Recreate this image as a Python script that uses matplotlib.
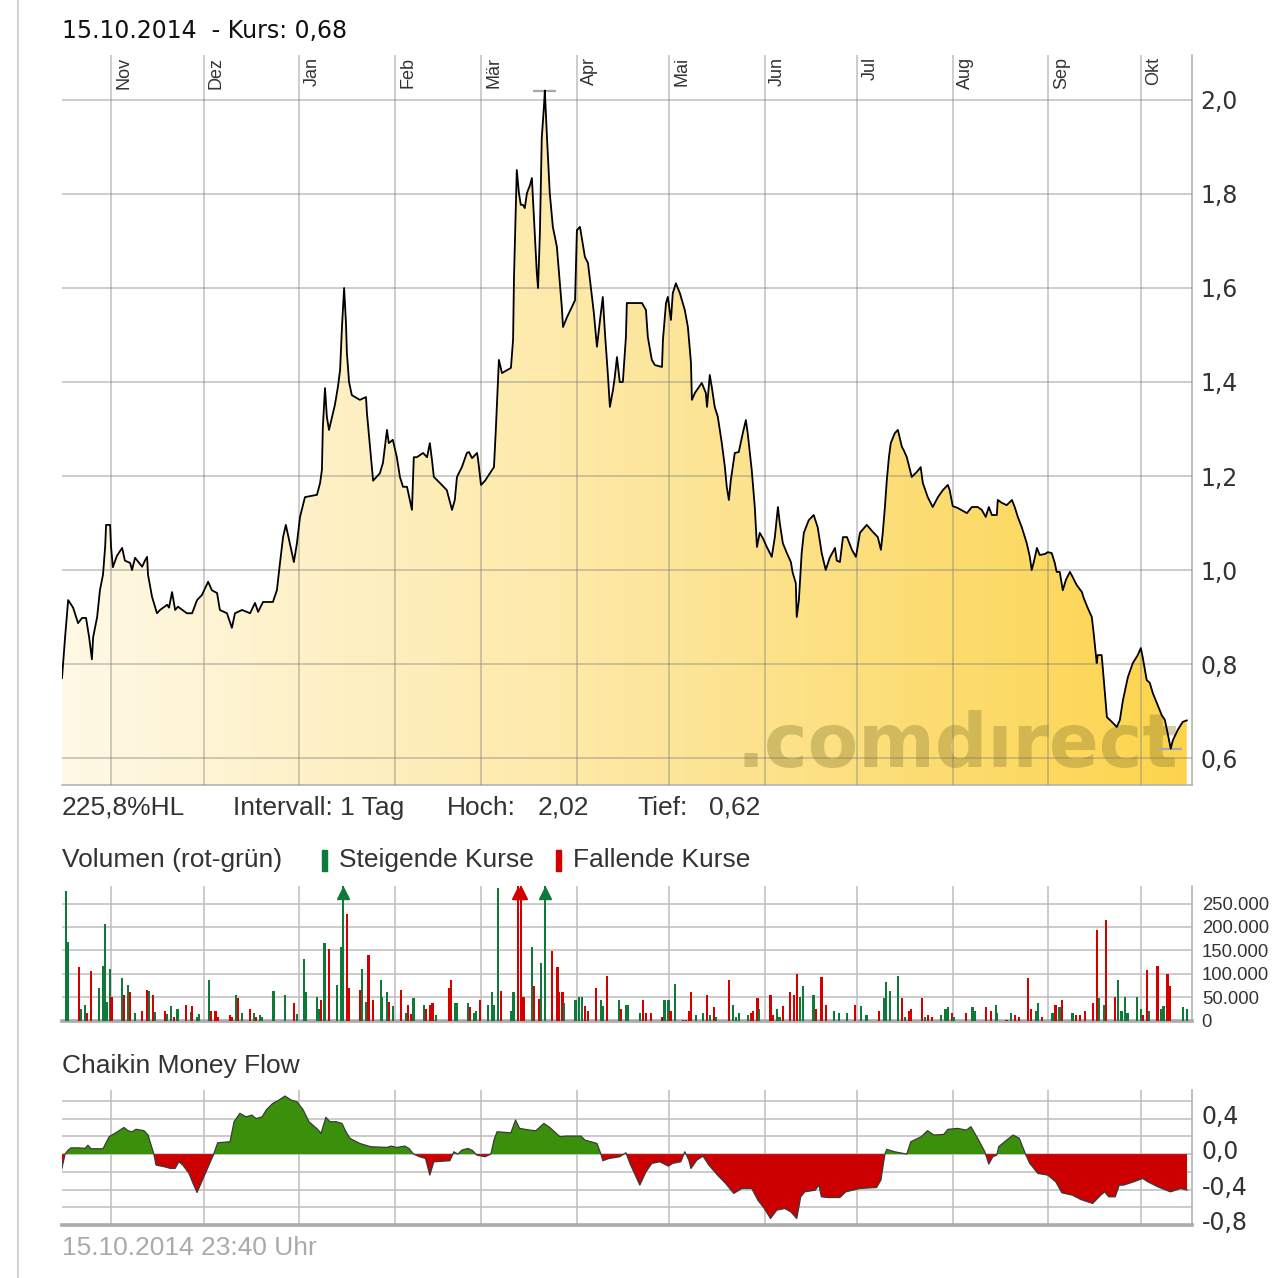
import matplotlib
matplotlib.use('Agg')
import matplotlib.pyplot as plt
import matplotlib.dates as mdates
from matplotlib.colors import LinearSegmentedColormap
from matplotlib.patches import Polygon, Rectangle
from matplotlib.lines import Line2D
from matplotlib.transforms import ScaledTranslation
import numpy as np
import pandas as pd

# ===== DATA (days counted from 1 Nov 2013) =====
price_day = [
    -15.9, -14.9, -13.9, -12.3, -10.7, -9.4, -8.1, -7.1, -6.2, -5.8, -4.5, -3.6, -2.6, -1.9, -1.6, -0.3,
    0.0, 0.6, 1.9, 3.6, 4.5, 6.2, 6.8, 7.8, 10.1, 11.0, 11.7, 12.0, 13.3, 14.9, 15.9, 18.2, 18.8, 19.8,
    20.8, 21.7, 24.6, 26.3, 27.9, 29.5, 31.5, 32.7, 34.4, 35.3, 37.6, 39.2, 40.2, 42.5, 45.1, 46.7, 47.7,
    49.3, 52.5, 53.8, 54.8, 55.8, 56.7, 58.0, 59.3, 60.3, 61.3, 62.9, 66.8, 67.8, 68.4, 68.7, 69.4, 70.0,
    70.7, 71.7, 72.6, 73.6, 74.3, 74.9, 75.6, 76.2, 76.5, 77.2, 78.1, 80.7, 82.7, 83.0, 84.0, 84.6, 85.0,
    87.2, 88.2, 89.5, 90.1, 91.4, 92.7, 93.7, 94.7, 96.0, 96.9, 97.6, 98.2, 99.2, 101.2, 102.5, 103.4,
    104.1, 104.7, 106.7, 108.9, 110.6, 111.5, 112.2, 113.8, 115.4, 116.1, 117.1, 118.7, 119.0, 120.0,
    121.3, 122.9, 124.2, 124.8, 125.5, 125.8, 126.8, 129.7, 130.4, 130.7, 131.3, 131.6, 132.3, 132.9,
    133.6, 134.2, 134.9, 135.9, 136.5, 136.8, 137.5, 138.1, 138.5, 139.1, 139.7, 140.4, 140.7, 141.4,
    142.3, 143.3, 144.6, 145.3, 146.2, 146.6, 147.9, 149.5, 150.5, 151.1, 152.1, 153.7, 154.7, 156.0,
    156.6, 157.6, 158.6, 159.5, 160.2, 161.2, 161.8, 162.8, 163.4, 164.1, 165.0, 166.0, 167.0, 167.3,
    172.2, 173.5, 174.1, 175.4, 176.4, 178.7, 179.0, 180.0, 180.6, 181.6, 182.2, 183.2, 184.5, 186.1,
    187.1, 188.1, 188.4, 189.4, 191.6, 192.9, 193.3, 194.2, 194.9, 195.8, 196.8, 198.1, 199.1, 199.7,
    200.4, 201.0, 202.3, 203.6, 204.9, 205.9, 206.5, 207.8, 208.8, 209.5, 210.4, 211.4, 212.7, 214.3,
    215.3, 216.3, 216.9, 217.9, 219.2, 220.5, 221.1, 222.1, 222.4, 223.1, 224.0, 224.7, 226.3, 227.9,
    229.2, 230.5, 231.8, 233.1, 234.8, 235.4, 236.4, 237.4, 238.7, 240.3, 241.6, 242.9, 245.1, 247.1,
    248.7, 249.7, 250.3, 251.0, 251.6, 252.3, 252.9, 254.2, 255.2, 256.5, 257.1, 258.1, 259.7, 261.4,
    262.6, 263.3, 264.9, 266.5, 268.2, 269.8, 271.4, 272.0, 273.0, 274.6, 277.6, 279.2, 281.1, 282.4,
    283.7, 284.7, 285.7, 287.3, 287.6, 288.9, 290.5, 292.2, 293.1, 294.1, 295.4, 297.0, 298.0, 298.6,
    299.3, 300.3, 301.2, 302.9, 303.8, 305.1, 306.1, 306.7, 307.7, 308.7, 309.7, 311.0, 311.9, 313.2,
    314.9, 315.5, 316.8, 318.1, 318.7, 319.7, 320.0, 321.3, 322.0, 323.0, 324.6, 326.2, 327.2, 328.2,
    329.8, 331.4, 333.0, 334.0, 334.6, 335.9, 336.9, 337.9, 339.2, 340.8, 341.8, 342.7, 343.7, 344.4,
    346.0, 347.6, 348.9]
price_val = [
    0.77, 0.857, 0.936, 0.92, 0.887, 0.898, 0.898, 0.857, 0.81, 0.857, 0.90, 0.957, 0.99, 1.05, 1.096, 1.096,
    1.05, 1.006, 1.03, 1.047, 1.02, 1.015, 1.0, 1.026, 1.007, 1.02, 1.028, 0.99, 0.943, 0.908, 0.915, 0.926, 0.92, 0.953,
    0.915, 0.922, 0.908, 0.908, 0.936, 0.947, 0.975, 0.957, 0.951, 0.915, 0.908, 0.877, 0.908, 0.915, 0.908, 0.93, 0.911,
    0.932, 0.932, 0.957, 1.015, 1.07, 1.096, 1.057, 1.017, 1.057, 1.113, 1.155, 1.16, 1.185, 1.213, 1.304, 1.387, 1.326,
    1.298, 1.326, 1.351, 1.39, 1.426, 1.517, 1.60, 1.526, 1.462, 1.40, 1.372, 1.362, 1.368, 1.334, 1.262, 1.219, 1.19,
    1.206, 1.228, 1.298, 1.27, 1.277, 1.24, 1.198, 1.177, 1.177, 1.149, 1.128, 1.24, 1.24, 1.249, 1.24, 1.27,
    1.234, 1.198, 1.185, 1.17, 1.128, 1.149, 1.198, 1.219, 1.249, 1.251, 1.238, 1.249, 1.238, 1.181,
    1.19, 1.206, 1.219, 1.298, 1.404, 1.447, 1.419, 1.43, 1.49, 1.623, 1.772, 1.851, 1.802, 1.777,
    1.777, 1.77, 1.802, 1.819, 1.834, 1.796, 1.704, 1.632, 1.60, 1.717, 1.919, 1.985, 2.02, 1.92,
    1.802, 1.73, 1.688, 1.632, 1.56, 1.517, 1.538, 1.56, 1.574, 1.723, 1.73, 1.666, 1.653, 1.581,
    1.547, 1.475, 1.532, 1.581, 1.504, 1.411, 1.347, 1.383, 1.411, 1.453, 1.40, 1.40, 1.496, 1.568,
    1.568, 1.553, 1.496, 1.447, 1.436, 1.432, 1.489, 1.568, 1.581, 1.532, 1.589, 1.61, 1.589, 1.553,
    1.517, 1.441, 1.362, 1.377, 1.398, 1.377, 1.347, 1.415, 1.387, 1.347, 1.326, 1.27, 1.219, 1.177,
    1.149, 1.19, 1.249, 1.251, 1.291, 1.319, 1.291, 1.213, 1.134, 1.049, 1.079, 1.068, 1.049, 1.028,
    1.07, 1.134, 1.10, 1.057, 1.036, 1.017, 0.994, 0.972, 0.90, 0.936, 1.036, 1.079, 1.106, 1.117,
    1.091, 1.036, 1.0, 1.026, 1.047, 1.02, 1.017, 1.07, 1.07, 1.043, 1.028, 1.079, 1.096, 1.081,
    1.07, 1.043, 1.079, 1.134, 1.19, 1.24, 1.27, 1.291, 1.298, 1.262, 1.255, 1.24, 1.198, 1.209,
    1.219, 1.185, 1.155, 1.134, 1.155, 1.17, 1.181, 1.17, 1.136, 1.132, 1.121, 1.134, 1.134, 1.128,
    1.113, 1.134, 1.117, 1.117, 1.149, 1.143, 1.138, 1.149, 1.134, 1.113, 1.091, 1.057, 1.028, 1.0,
    1.017, 1.047, 1.032, 1.034, 1.038, 1.036, 1.015, 0.996, 0.996, 0.957, 0.979, 0.996, 0.985, 0.968,
    0.953, 0.94, 0.919, 0.90, 0.866, 0.802, 0.819, 0.819, 0.766, 0.687, 0.677, 0.666, 0.681, 0.723,
    0.772, 0.802, 0.819, 0.834, 0.815, 0.766, 0.76, 0.738, 0.717, 0.691, 0.681, 0.653, 0.62, 0.638,
    0.66, 0.677, 0.68]

# volume in thousands, up = 1 for rising price (green)
vol_day = [
    -16.2, -14.6, -13.9, -10.4, -9.7, -8.4, -7.8, -6.5, -3.9, -2.6, -1.9, -1.3, -0.3, 0.2, 3.6, 4.2, 5.5, 6.2,
    7.8, 10.1, 11.7, 12.3, 13.6, 14.3, 17.5, 18.2, 19.5, 20.4, 21.6, 24.3, 25.9, 26.3, 27.9, 28.5, 31.8,
    32.4, 33.9, 34.7, 38.6, 39.2, 40.5, 41.2, 42.5, 45.1, 46.4, 47.0, 48.3, 49.0, 52.7, 56.4, 59.3, 60.3,
    62.7, 63.2, 66.8, 67.3, 68.1, 69.2, 70.6, 73.3, 74.6, 75.2, 76.5, 77.2, 80.7, 81.5, 82.7, 83.5, 84.9,
    87.5, 87.9, 89.5, 90.1, 91.4, 94.0, 95.7, 96.3, 97.3, 98.1, 101.5, 102.1, 103.6, 104.3, 105.4, 109.6,
    110.2, 111.7, 112.2, 115.8, 116.4, 117.7, 118.4, 119.6, 122.2, 123.5, 124.2, 125.5, 126.5, 129.7,
    130.5, 132.0, 132.9, 133.8, 136.5, 137.2, 138.8, 139.4, 140.7, 143.0, 144.8, 145.3, 146.4, 147.0,
    150.6, 151.8, 152.7, 153.7, 154.7, 157.3, 158.9, 159.5, 160.8, 164.7, 165.4, 167.0, 167.6, 171.5,
    172.5, 173.5, 175.1, 178.7, 179.5, 180.8, 181.5, 182.9, 185.5, 186.4, 187.4, 188.1, 189.7, 192.0,
    193.3, 194.2, 195.5, 196.2, 200.4, 201.7, 202.6, 203.6, 206.5, 207.5, 208.3, 209.7, 210.1, 213.9,
    214.6, 215.9, 216.8, 217.9, 220.2, 221.5, 222.4, 223.5, 224.4, 227.8, 228.6, 230.4, 232.0, 234.4,
    236.1, 238.6, 241.2, 243.2, 245.0, 249.0, 250.6, 251.3, 252.6, 255.2, 256.5, 257.5, 258.8, 259.4,
    263.0, 263.9, 264.9, 266.2, 269.1, 270.7, 271.4, 272.7, 273.2, 277.4, 279.4, 280.1, 283.7, 285.3,
    287.0, 287.3, 290.4, 291.8, 293.3, 294.4, 297.5, 298.3, 299.9, 300.6, 301.9, 305.4, 306.3, 307.6,
    308.4, 311.8, 312.9, 314.2, 315.8, 318.4, 319.7, 320.4, 322.2, 322.6, 325.7, 326.5, 327.7, 328.8,
    329.7, 332.7, 334.0, 334.6, 335.9, 336.6, 339.4, 340.7, 341.4, 342.7, 343.4, 347.7, 349.0]
vol_k = [
    135, 276, 167, 114, 25, 33, 16, 105, 70, 117, 206, 40, 109, 51, 91, 55, 75, 60,
    16, 20, 65, 64, 55, 18, 20, 13, 30, 7, 25, 34, 18, 30, 7, 13, 87,
    20, 20, 7, 11, 7, 55, 48, 16, 25, 16, 7, 11, 7, 64, 55, 37, 14,
    132, 60, 51, 25, 43, 166, 152, 75, 157, 320, 228, 70, 65, 109, 39, 139, 43,
    87, 50, 60, 39, 30, 65, 16, 33, 14, 48, 33, 25, 33, 37, 11, 70,
    87, 38, 38, 38, 28, 16, 20, 43, 33, 60, 33, 283, 64, 20,
    60, 320, 320, 50, 157, 73, 46, 122, 320, 148, 114, 60, 60, 38,
    43, 50, 50, 30, 20, 70, 43, 30, 96, 43, 25, 33, 33, 16,
    43, 16, 16, 7, 43, 43, 20, 78, 1, 1, 20, 60, 12, 16,
    55, 12, 28, 7, 87, 33, 7, 16, 11, 16, 20, 48, 25, 55,
    11, 25, 7, 30, 60, 55, 100, 51, 73, 55, 25, 93, 33, 20,
    16, 16, 33, 30, 11, 20, 48, 82, 64, 96, 48, 7, 20, 25,
    48, 7, 11, 7, 11, 25, 28, 16, 7, 16, 28, 20, 28, 20,
    33, 16, 1, 16, 11, 7, 91, 25, 20, 37, 7, 16, 33, 28,
    43, 16, 11, 11, 20, 38, 194, 48, 34, 215, 51, 87, 20, 51,
    16, 51, 25, 11, 108, 20, 117, 25, 30, 100, 73, 28, 25]
vol_up = [
    0, 1, 1, 0, 1, 1, 0, 0, 1, 1, 1, 1, 1, 0, 1, 0, 1, 0,
    1, 0, 0, 1, 0, 1, 0, 1, 1, 0, 1, 0, 1, 0, 1, 1, 1,
    0, 0, 0, 0, 0, 1, 0, 1, 0, 1, 0, 1, 1, 1, 1, 0, 1,
    1, 1, 1, 1, 0, 1, 0, 1, 1, 1, 0, 0, 0, 1, 1, 0, 0,
    1, 1, 1, 0, 1, 0, 1, 0, 0, 1, 1, 0, 0, 0, 1, 0,
    0, 1, 1, 1, 0, 1, 1, 0, 1, 1, 1, 1, 0, 1,
    1, 0, 0, 0, 1, 0, 0, 1, 1, 0, 0, 0, 0, 1,
    1, 1, 1, 0, 0, 0, 1, 1, 0, 1, 0, 1, 1, 1,
    0, 0, 0, 0, 1, 1, 0, 1, 0, 0, 0, 0, 1, 1,
    0, 1, 0, 1, 0, 1, 1, 1, 1, 0, 0, 0, 1, 0,
    0, 1, 1, 0, 0, 0, 0, 1, 1, 1, 0, 0, 0, 1,
    1, 1, 0, 1, 1, 0, 1, 1, 1, 1, 0, 1, 0, 0,
    0, 1, 0, 0, 1, 1, 1, 0, 1, 0, 1, 1, 0, 0,
    1, 1, 0, 1, 0, 0, 0, 0, 1, 1, 0, 1, 0, 1,
    0, 1, 0, 0, 0, 0, 0, 1, 1, 0, 0, 1, 1, 1,
    1, 1, 1, 0, 0, 1, 0, 1, 1, 0, 0, 1, 1]

cmf_day = [
    -16.2, -14.9, -13.9, -13.0, -10.4, -8.4, -7.5, -6.5, -2.6, -0.6, 1.5, 4.2, 5.5, 6.8, 8.1, 10.7, 12.0,
    13.9, 14.6, 17.3, 19.3, 20.8, 22.0, 23.3, 25.3, 26.6, 27.9, 29.2, 31.1, 33.2, 34.6, 38.6, 39.9, 41.8,
    43.8, 45.7, 47.0, 49.0, 50.4, 52.4, 54.5, 56.4, 58.4, 60.3, 62.3, 64.2, 67.0, 68.1, 69.7, 71.0, 73.0,
    74.9, 76.2, 77.5, 80.7, 84.2, 89.5, 90.8, 92.7, 95.3, 96.6, 98.1, 100.1, 102.0, 103.4, 104.7, 109.9,
    111.2, 112.5, 113.8, 115.8, 117.3, 118.6, 121.3, 123.2, 124.2, 125.2, 129.7, 131.2, 132.5, 135.9,
    137.8, 140.4, 142.3, 145.6, 147.7, 152.4, 153.7, 157.6, 158.9, 159.5, 161.5, 165.0, 167.0, 168.3,
    171.5, 173.5, 175.4, 178.0, 180.8, 182.1, 184.8, 186.1, 187.4, 188.1, 190.0, 192.0, 193.9, 196.7,
    199.3, 202.0, 204.6, 207.8, 209.8, 211.9, 213.9, 215.9, 218.5, 220.5, 222.4, 223.7, 225.0, 228.4,
    229.6, 230.4, 232.5, 236.4, 238.3, 242.9, 248.3, 249.7, 251.0, 251.6, 254.2, 258.1, 259.4, 262.8,
    264.8, 266.9, 270.1, 271.4, 274.6, 277.4, 278.9, 281.4, 283.4, 284.7, 286.0, 287.3, 287.9, 290.5,
    292.6, 294.6, 296.6, 298.0, 300.6, 303.8, 306.4, 308.4, 311.8, 314.5, 318.4, 321.0, 322.3, 323.6,
    325.7, 327.0, 328.4, 331.7, 334.6, 336.3, 339.5, 343.6, 347.0, 349.0]
cmf_val = [
    -0.20, 0.0, 0.045, 0.07, 0.07, 0.064, 0.10, 0.06, 0.06, 0.196, 0.24, 0.30, 0.264, 0.25, 0.28, 0.264, 0.215,
    0.0, -0.124, -0.143, -0.162, -0.162, -0.087, -0.124, -0.218, -0.33, -0.433, -0.33, -0.18, -0.01, 0.128, 0.139, 0.365, 0.46,
    0.42, 0.44, 0.40, 0.42, 0.50, 0.57, 0.61, 0.655, 0.61, 0.59, 0.50, 0.365, 0.28, 0.233, 0.414, 0.365, 0.365,
    0.346, 0.252, 0.177, 0.12, 0.083, 0.075, 0.09, 0.075, 0.09, 0.064, 0.0, -0.03, -0.05, -0.237, -0.087, -0.075,
    0.026, 0.0, 0.045, 0.064, 0.038, -0.011, -0.03, 0.0, 0.158, 0.252, 0.24, 0.384, 0.29, 0.27,
    0.264, 0.346, 0.30, 0.196, 0.203, 0.203, 0.158, 0.12, 0.0, -0.075, -0.05, -0.03, 0.015, -0.105,
    -0.35, -0.20, -0.105, -0.087, -0.136, -0.105, -0.087, 0.026, -0.068, -0.162, -0.068, -0.023, -0.124, -0.237,
    -0.33, -0.444, -0.388, -0.388, -0.52, -0.614, -0.727, -0.633, -0.614, -0.652, -0.727, -0.482, -0.426, -0.407,
    -0.35, -0.482, -0.49, -0.49, -0.426, -0.388, -0.377, -0.294, 0.0, 0.053, 0.026, 0.0, 0.139, 0.196,
    0.264, 0.215, 0.222, 0.279, 0.29, 0.27, 0.309, 0.158, 0.026, -0.113, -0.03, -0.011, 0.083, 0.158,
    0.215, 0.177, 0.0, -0.105, -0.218, -0.237, -0.313, -0.437, -0.463, -0.512, -0.557, -0.463, -0.426, -0.482,
    -0.482, -0.35, -0.35, -0.313, -0.275, -0.313, -0.369, -0.426, -0.388, -0.407]

month_start = ['2013-11-01', '2013-12-01', '2014-01-01', '2014-02-01', '2014-03-01', '2014-04-01',
               '2014-05-01', '2014-06-01', '2014-07-01', '2014-08-01', '2014-09-01', '2014-10-01']
month_lbl = ['Nov', 'Dez', 'Jan', 'Feb', 'Mär', 'Apr', 'Mai', 'Jun', 'Jul', 'Aug', 'Sep', 'Okt']
price_ticks = [0.6, 0.8, 1.0, 1.2, 1.4, 1.6, 1.8, 2.0]
vol_ticks = [0, 50, 100, 150, 200, 250]
cmf_grid = [-0.8, -0.6, -0.4, -0.2, 0.0, 0.2, 0.4, 0.6]
cmf_labeled = [-0.8, -0.4, 0.0, 0.4]

W, H = 1280, 1278
base = pd.Timestamp('2013-11-01')


def to_num(days):
    return mdates.date2num(base + pd.to_timedelta(np.asarray(days, dtype=float), unit='D'))


def de(v, nd=1):
    return f'{v:.{nd}f}'.replace('.', ',')


GRID = dict(color='#808080', alpha=0.5, lw=1.1)
SPINE = '#b4b4b4'
TXT = '#333333'
SANS = ['Liberation Sans', 'DejaVu Sans']
FS = 19

px = to_num(price_day)
py = np.array(price_val)
xlim = to_num([-15.9, 350.6])
mticks = mdates.date2num(pd.to_datetime(month_start))

fig = plt.figure(figsize=(W / 100, H / 100), dpi=100)

# ===== PRICE PANEL =====
ax = fig.add_axes([62 / W, 1 - 785 / H, 1130 / W, 730 / H])
ybot, ytop = 0.5426, 2.0957
cmap = LinearSegmentedColormap.from_list('fill', ['#fff9e6', '#fde7a0', '#fcd44b'])
im = ax.imshow(np.linspace(0, 1, 256)[None, :], extent=[xlim[0], xlim[1], ybot, ytop],
               aspect='auto', cmap=cmap, zorder=1, origin='lower')
verts = [(px[0], ybot)] + list(zip(px, py)) + [(px[-1], ybot)]
poly = Polygon(verts, closed=True, facecolor='none', edgecolor='none')
ax.add_patch(poly)
im.set_clip_path(poly)
ax.plot(px, py, color='black', lw=1.3, zorder=4)

i_hi, i_lo = int(np.argmax(py)), int(np.argmin(py))
for i in (i_hi, i_lo):
    ax.hlines(py[i], px[i] - 3.7, px[i] + 3.7, color='#a8a8a8', lw=1.6, zorder=3.5)

ax.text(0.597, 0.024, '.comd\u0131rect', transform=ax.transAxes, fontsize=53, weight='bold',
        family='DejaVu Sans', color='#8a7a30', alpha=0.36, ha='left', va='baseline', zorder=2.6)

ax.set_xlim(xlim)
ax.set_ylim(ybot, ytop)
ax.set_xticks(mticks)
ax.set_yticks(price_ticks)
ax.set_yticklabels([de(v) for v in price_ticks])
ax.yaxis.tick_right()
ax.tick_params(axis='y', length=0, pad=6, labelsize=17, labelcolor=TXT)
ax.tick_params(axis='x', length=0, labelbottom=False)
ax.set_axisbelow(False)
ax.grid(True, **GRID)
for s in ('top', 'left'):
    ax.spines[s].set_visible(False)
for s in ('right', 'bottom'):
    ax.spines[s].set_color(SPINE)
    ax.spines[s].set_linewidth(1.2)
for m, lbl in zip(mticks, month_lbl):
    ax.annotate(lbl, xy=(m, 1), xycoords=('data', 'axes fraction'), xytext=(3.2, -1.5),
                textcoords='offset points', rotation=90, ha='left', va='top',
                fontsize=13, color=TXT, family=SANS)

# ===== HEADER / INFO TEXT =====
fig.text(62 / W, 1 - 31 / H, f'15.10.2014  - Kurs: {de(py[-1], 2)}', fontsize=17,
         family='DejaVu Sans', color='#111111', va='center', ha='left')
hl = (py[i_hi] - py[i_lo]) / py[i_lo] * 100
row = 1 - 808 / H
for x0, s in [(62, f'{de(hl)}%HL'), (233, 'Intervall: 1 Tag'), (447, 'Hoch:'),
              (538, de(py[i_hi], 2)), (637, 'Tief:'), (709, de(py[i_lo], 2))]:
    fig.text(x0 / W, row, s, fontsize=FS, family=SANS, color=TXT, va='center', ha='left')

row = 1 - 860 / H
fig.text(62 / W, row, 'Volumen (rot-grün)', fontsize=FS, family=SANS, color=TXT, va='center')
fig.text(339 / W, row, 'Steigende Kurse', fontsize=FS, family=SANS, color=TXT, va='center')
fig.text(573 / W, row, 'Fallende Kurse', fontsize=FS, family=SANS, color=TXT, va='center')
GREEN, RED = '#0d7a3a', '#d40000'
fig.add_artist(Rectangle((322 / W, 1 - 871 / H), 5 / W, 21 / H, color=GREEN, transform=fig.transFigure))
fig.add_artist(Rectangle((556 / W, 1 - 871 / H), 5 / W, 21 / H, color=RED, transform=fig.transFigure))

# ===== VOLUME PANEL =====
axv = fig.add_axes([62 / W, 1 - 1020.5 / H, 1130 / W, 134.5 / H])
vtop = 287.4
vx = to_num(vol_day)
vk = np.array(vol_k, dtype=float)
vc = [GREEN if u else RED for u in vol_up]
axv.bar(vx, np.minimum(vk, vtop), width=0.75, color=vc, zorder=3)
for x, v, c in zip(vx, vk, vc):
    if v > vtop:
        axv.plot([x], [vtop - 14], marker='^', ms=9, color=c, zorder=4, clip_on=False)
axv.set_xlim(xlim)
axv.set_ylim(0, vtop)
axv.set_xticks(mticks)
axv.set_yticks(vol_ticks)
axv.set_yticklabels([f'{v}.000' if v else '0' for v in vol_ticks])
axv.yaxis.tick_right()
axv.tick_params(axis='y', length=0, pad=7, labelsize=13.3, labelcolor=TXT)
for t in axv.get_yticklabels():
    t.set_family(SANS)
axv.tick_params(axis='x', length=0, labelbottom=False)
axv.set_axisbelow(True)
axv.grid(True, color='#bdbdbd', lw=1.1)
for s in ('top', 'left'):
    axv.spines[s].set_visible(False)
axv.spines['right'].set_color(SPINE)
axv.spines['right'].set_linewidth(1.2)
axv.spines['bottom'].set_color('#aaaaaa')
axv.spines['bottom'].set_linewidth(2.6)

# ===== CHAIKIN MONEY FLOW =====
fig.text(62 / W, 1 - 1066 / H, 'Chaikin Money Flow', fontsize=FS, family=SANS, color=TXT, va='center')
axc = fig.add_axes([62 / W, 1 - 1225 / H, 1130 / W, 135 / H])
cx = to_num(cmf_day)
cy = np.array(cmf_val)
axc.fill_between(cx, cy, 0, where=cy >= 0, interpolate=True, color='#3a900a', lw=0, zorder=2)
axc.fill_between(cx, cy, 0, where=cy <= 0, interpolate=True, color='#cc0000', lw=0, zorder=2)
axc.plot(cx, cy, color='#3a3a3a', lw=0.9, zorder=3)
axc.set_xlim(xlim)
axc.set_ylim(-0.8, 0.723)
axc.set_xticks(mticks)
axc.set_yticks(cmf_grid)
axc.set_yticklabels([de(v) if v in cmf_labeled else '' for v in cmf_grid])
axc.yaxis.tick_right()
axc.tick_params(axis='y', length=0, pad=7, labelsize=17, labelcolor=TXT)
lift = ScaledTranslation(0, 3 / 72, fig.dpi_scale_trans)
for t in axc.get_yticklabels():
    t.set_transform(t.get_transform() + lift)
axc.tick_params(axis='x', length=0, labelbottom=False)
axc.set_axisbelow(True)
axc.grid(True, color='#bdbdbd', lw=1.1)
for s in ('top', 'left'):
    axc.spines[s].set_visible(False)
axc.spines['right'].set_color(SPINE)
axc.spines['right'].set_linewidth(1.2)
axc.spines['bottom'].set_color('#aaaaaa')
axc.spines['bottom'].set_linewidth(2.6)

fig.text(62 / W, 1 - 1248 / H, '15.10.2014 23:40 Uhr', fontsize=FS, family=SANS,
         color='#aaaaaa', va='center')
fig.add_artist(Line2D([18 / W, 18 / W], [0, 1], color='#d4d4d4', lw=1.5, transform=fig.transFigure))

fig.savefig('out.png', dpi=100)
